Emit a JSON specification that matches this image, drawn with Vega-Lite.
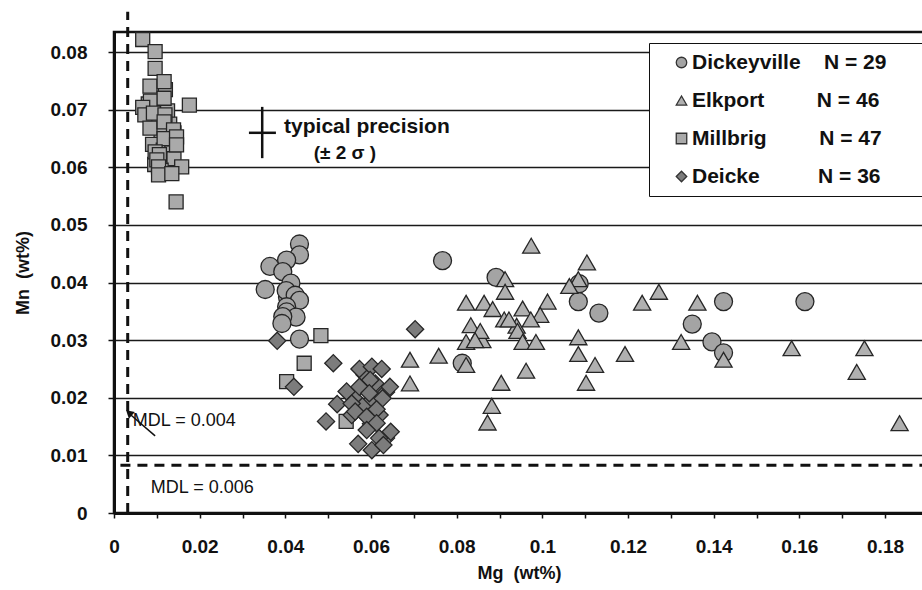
{
  "$schema": "https://vega.github.io/schema/vega-lite/v6.json",
  "width": 810,
  "height": 481,
  "autosize": "none",
  "padding": {"left": 114, "top": 32, "right": 0, "bottom": 77},
  "background": "white",
  "config": {"view": {"stroke": "#111", "strokeWidth": 2.5}, "font": "Liberation Sans"},
  "datasets": {
    "pts": [
      {"Formation": "Millbrig", "Mg": 0.0080, "Mn": 0.0710},
      {"Formation": "Millbrig", "Mg": 0.0090, "Mn": 0.0700},
      {"Formation": "Millbrig", "Mg": 0.0110, "Mn": 0.0705},
      {"Formation": "Millbrig", "Mg": 0.0125, "Mn": 0.0698},
      {"Formation": "Millbrig", "Mg": 0.0100, "Mn": 0.0685},
      {"Formation": "Millbrig", "Mg": 0.0130, "Mn": 0.0675},
      {"Formation": "Millbrig", "Mg": 0.0140, "Mn": 0.0660},
      {"Formation": "Millbrig", "Mg": 0.0110, "Mn": 0.0660},
      {"Formation": "Millbrig", "Mg": 0.0125, "Mn": 0.0645},
      {"Formation": "Millbrig", "Mg": 0.0090, "Mn": 0.0640},
      {"Formation": "Millbrig", "Mg": 0.0115, "Mn": 0.0630},
      {"Formation": "Millbrig", "Mg": 0.0135, "Mn": 0.0625},
      {"Formation": "Millbrig", "Mg": 0.0125, "Mn": 0.0610},
      {"Formation": "Millbrig", "Mg": 0.0095, "Mn": 0.0605},
      {"Formation": "Millbrig", "Mg": 0.0140, "Mn": 0.0615},
      {"Formation": "Millbrig", "Mg": 0.0110, "Mn": 0.0595},
      {"Formation": "Millbrig", "Mg": 0.0085, "Mn": 0.0715},
      {"Formation": "Millbrig", "Mg": 0.0120, "Mn": 0.0735},
      {"Formation": "Millbrig", "Mg": 0.0067, "Mn": 0.0822},
      {"Formation": "Millbrig", "Mg": 0.0096, "Mn": 0.0801},
      {"Formation": "Millbrig", "Mg": 0.0096, "Mn": 0.0772},
      {"Formation": "Millbrig", "Mg": 0.0084, "Mn": 0.0741},
      {"Formation": "Millbrig", "Mg": 0.0117, "Mn": 0.0749},
      {"Formation": "Millbrig", "Mg": 0.0117, "Mn": 0.0720},
      {"Formation": "Millbrig", "Mg": 0.0176, "Mn": 0.0708},
      {"Formation": "Millbrig", "Mg": 0.0067, "Mn": 0.0704},
      {"Formation": "Millbrig", "Mg": 0.0072, "Mn": 0.0691},
      {"Formation": "Millbrig", "Mg": 0.0092, "Mn": 0.0694},
      {"Formation": "Millbrig", "Mg": 0.0119, "Mn": 0.0691},
      {"Formation": "Millbrig", "Mg": 0.0084, "Mn": 0.0668},
      {"Formation": "Millbrig", "Mg": 0.0117, "Mn": 0.0679},
      {"Formation": "Millbrig", "Mg": 0.0139, "Mn": 0.0665},
      {"Formation": "Millbrig", "Mg": 0.0117, "Mn": 0.0650},
      {"Formation": "Millbrig", "Mg": 0.0146, "Mn": 0.0653},
      {"Formation": "Millbrig", "Mg": 0.0146, "Mn": 0.0639},
      {"Formation": "Millbrig", "Mg": 0.0096, "Mn": 0.0627},
      {"Formation": "Millbrig", "Mg": 0.0106, "Mn": 0.0622},
      {"Formation": "Millbrig", "Mg": 0.0100, "Mn": 0.0613},
      {"Formation": "Millbrig", "Mg": 0.0104, "Mn": 0.0601},
      {"Formation": "Millbrig", "Mg": 0.0158, "Mn": 0.0601},
      {"Formation": "Millbrig", "Mg": 0.0104, "Mn": 0.0587},
      {"Formation": "Millbrig", "Mg": 0.0135, "Mn": 0.0589},
      {"Formation": "Millbrig", "Mg": 0.0145, "Mn": 0.0540},
      {"Formation": "Millbrig", "Mg": 0.0483, "Mn": 0.0308},
      {"Formation": "Millbrig", "Mg": 0.0444, "Mn": 0.0260},
      {"Formation": "Millbrig", "Mg": 0.0403, "Mn": 0.0228},
      {"Formation": "Millbrig", "Mg": 0.0542, "Mn": 0.0159},
      {"Formation": "Dickeyville", "Mg": 0.0415, "Mn": 0.0360},
      {"Formation": "Dickeyville", "Mg": 0.0405, "Mn": 0.0375},
      {"Formation": "Dickeyville", "Mg": 0.0433, "Mn": 0.0467},
      {"Formation": "Dickeyville", "Mg": 0.0433, "Mn": 0.0448},
      {"Formation": "Dickeyville", "Mg": 0.0403, "Mn": 0.0439},
      {"Formation": "Dickeyville", "Mg": 0.0364, "Mn": 0.0428},
      {"Formation": "Dickeyville", "Mg": 0.0394, "Mn": 0.0419},
      {"Formation": "Dickeyville", "Mg": 0.0413, "Mn": 0.0399},
      {"Formation": "Dickeyville", "Mg": 0.0353, "Mn": 0.0388},
      {"Formation": "Dickeyville", "Mg": 0.0402, "Mn": 0.0386},
      {"Formation": "Dickeyville", "Mg": 0.0423, "Mn": 0.0378},
      {"Formation": "Dickeyville", "Mg": 0.0433, "Mn": 0.0369},
      {"Formation": "Dickeyville", "Mg": 0.0403, "Mn": 0.0358},
      {"Formation": "Dickeyville", "Mg": 0.0403, "Mn": 0.0349},
      {"Formation": "Dickeyville", "Mg": 0.0425, "Mn": 0.0340},
      {"Formation": "Dickeyville", "Mg": 0.0394, "Mn": 0.0341},
      {"Formation": "Dickeyville", "Mg": 0.0392, "Mn": 0.0329},
      {"Formation": "Dickeyville", "Mg": 0.0433, "Mn": 0.0302},
      {"Formation": "Dickeyville", "Mg": 0.0767, "Mn": 0.0438},
      {"Formation": "Dickeyville", "Mg": 0.0892, "Mn": 0.0409},
      {"Formation": "Dickeyville", "Mg": 0.1086, "Mn": 0.0398},
      {"Formation": "Dickeyville", "Mg": 0.1084, "Mn": 0.0367},
      {"Formation": "Dickeyville", "Mg": 0.1132, "Mn": 0.0347},
      {"Formation": "Dickeyville", "Mg": 0.1350, "Mn": 0.0328},
      {"Formation": "Dickeyville", "Mg": 0.0813, "Mn": 0.0260},
      {"Formation": "Dickeyville", "Mg": 0.1423, "Mn": 0.0367},
      {"Formation": "Dickeyville", "Mg": 0.1613, "Mn": 0.0367},
      {"Formation": "Dickeyville", "Mg": 0.1396, "Mn": 0.0297},
      {"Formation": "Dickeyville", "Mg": 0.1423, "Mn": 0.0278},
      {"Formation": "Elkport", "Mg": 0.0860, "Mn": 0.0300},
      {"Formation": "Elkport", "Mg": 0.0940, "Mn": 0.0325},
      {"Formation": "Elkport", "Mg": 0.0974, "Mn": 0.0464},
      {"Formation": "Elkport", "Mg": 0.1104, "Mn": 0.0435},
      {"Formation": "Elkport", "Mg": 0.0913, "Mn": 0.0406},
      {"Formation": "Elkport", "Mg": 0.1084, "Mn": 0.0406},
      {"Formation": "Elkport", "Mg": 0.1063, "Mn": 0.0394},
      {"Formation": "Elkport", "Mg": 0.0913, "Mn": 0.0384},
      {"Formation": "Elkport", "Mg": 0.1272, "Mn": 0.0384},
      {"Formation": "Elkport", "Mg": 0.0822, "Mn": 0.0365},
      {"Formation": "Elkport", "Mg": 0.0864, "Mn": 0.0365},
      {"Formation": "Elkport", "Mg": 0.1012, "Mn": 0.0367},
      {"Formation": "Elkport", "Mg": 0.1233, "Mn": 0.0365},
      {"Formation": "Elkport", "Mg": 0.1362, "Mn": 0.0365},
      {"Formation": "Elkport", "Mg": 0.0884, "Mn": 0.0354},
      {"Formation": "Elkport", "Mg": 0.0954, "Mn": 0.0355},
      {"Formation": "Elkport", "Mg": 0.0995, "Mn": 0.0344},
      {"Formation": "Elkport", "Mg": 0.0911, "Mn": 0.0336},
      {"Formation": "Elkport", "Mg": 0.0922, "Mn": 0.0336},
      {"Formation": "Elkport", "Mg": 0.0973, "Mn": 0.0336},
      {"Formation": "Elkport", "Mg": 0.0833, "Mn": 0.0326},
      {"Formation": "Elkport", "Mg": 0.0855, "Mn": 0.0316},
      {"Formation": "Elkport", "Mg": 0.0942, "Mn": 0.0316},
      {"Formation": "Elkport", "Mg": 0.0822, "Mn": 0.0297},
      {"Formation": "Elkport", "Mg": 0.0843, "Mn": 0.0300},
      {"Formation": "Elkport", "Mg": 0.0954, "Mn": 0.0297},
      {"Formation": "Elkport", "Mg": 0.0985, "Mn": 0.0297},
      {"Formation": "Elkport", "Mg": 0.1084, "Mn": 0.0305},
      {"Formation": "Elkport", "Mg": 0.1324, "Mn": 0.0297},
      {"Formation": "Elkport", "Mg": 0.0758, "Mn": 0.0273},
      {"Formation": "Elkport", "Mg": 0.1084, "Mn": 0.0276},
      {"Formation": "Elkport", "Mg": 0.0822, "Mn": 0.0257},
      {"Formation": "Elkport", "Mg": 0.1123, "Mn": 0.0257},
      {"Formation": "Elkport", "Mg": 0.1193, "Mn": 0.0276},
      {"Formation": "Elkport", "Mg": 0.0962, "Mn": 0.0247},
      {"Formation": "Elkport", "Mg": 0.0904, "Mn": 0.0226},
      {"Formation": "Elkport", "Mg": 0.1102, "Mn": 0.0226},
      {"Formation": "Elkport", "Mg": 0.0882, "Mn": 0.0186},
      {"Formation": "Elkport", "Mg": 0.0872, "Mn": 0.0157},
      {"Formation": "Elkport", "Mg": 0.0691, "Mn": 0.0266},
      {"Formation": "Elkport", "Mg": 0.0691, "Mn": 0.0225},
      {"Formation": "Elkport", "Mg": 0.1423, "Mn": 0.0266},
      {"Formation": "Elkport", "Mg": 0.1582, "Mn": 0.0286},
      {"Formation": "Elkport", "Mg": 0.1752, "Mn": 0.0286},
      {"Formation": "Elkport", "Mg": 0.1734, "Mn": 0.0245},
      {"Formation": "Elkport", "Mg": 0.1834, "Mn": 0.0156},
      {"Formation": "Deicke", "Mg": 0.0585, "Mn": 0.0240},
      {"Formation": "Deicke", "Mg": 0.0610, "Mn": 0.0225},
      {"Formation": "Deicke", "Mg": 0.0560, "Mn": 0.0200},
      {"Formation": "Deicke", "Mg": 0.0600, "Mn": 0.0195},
      {"Formation": "Deicke", "Mg": 0.0635, "Mn": 0.0210},
      {"Formation": "Deicke", "Mg": 0.0580, "Mn": 0.0185},
      {"Formation": "Deicke", "Mg": 0.0620, "Mn": 0.0170},
      {"Formation": "Deicke", "Mg": 0.0555, "Mn": 0.0170},
      {"Formation": "Deicke", "Mg": 0.0600, "Mn": 0.0155},
      {"Formation": "Deicke", "Mg": 0.0635, "Mn": 0.0130},
      {"Formation": "Deicke", "Mg": 0.0381, "Mn": 0.0299},
      {"Formation": "Deicke", "Mg": 0.0703, "Mn": 0.0319},
      {"Formation": "Deicke", "Mg": 0.0512, "Mn": 0.0260},
      {"Formation": "Deicke", "Mg": 0.0420, "Mn": 0.0219},
      {"Formation": "Deicke", "Mg": 0.0573, "Mn": 0.0250},
      {"Formation": "Deicke", "Mg": 0.0602, "Mn": 0.0254},
      {"Formation": "Deicke", "Mg": 0.0625, "Mn": 0.0250},
      {"Formation": "Deicke", "Mg": 0.0598, "Mn": 0.0231},
      {"Formation": "Deicke", "Mg": 0.0644, "Mn": 0.0219},
      {"Formation": "Deicke", "Mg": 0.0543, "Mn": 0.0211},
      {"Formation": "Deicke", "Mg": 0.0573, "Mn": 0.0219},
      {"Formation": "Deicke", "Mg": 0.0596, "Mn": 0.0208},
      {"Formation": "Deicke", "Mg": 0.0627, "Mn": 0.0199},
      {"Formation": "Deicke", "Mg": 0.0521, "Mn": 0.0189},
      {"Formation": "Deicke", "Mg": 0.0555, "Mn": 0.0190},
      {"Formation": "Deicke", "Mg": 0.0613, "Mn": 0.0180},
      {"Formation": "Deicke", "Mg": 0.0563, "Mn": 0.0176},
      {"Formation": "Deicke", "Mg": 0.0495, "Mn": 0.0159},
      {"Formation": "Deicke", "Mg": 0.0590, "Mn": 0.0167},
      {"Formation": "Deicke", "Mg": 0.0613, "Mn": 0.0156},
      {"Formation": "Deicke", "Mg": 0.0590, "Mn": 0.0144},
      {"Formation": "Deicke", "Mg": 0.0646, "Mn": 0.0141},
      {"Formation": "Deicke", "Mg": 0.0619, "Mn": 0.0130},
      {"Formation": "Deicke", "Mg": 0.0570, "Mn": 0.0120},
      {"Formation": "Deicke", "Mg": 0.0602, "Mn": 0.0109},
      {"Formation": "Deicke", "Mg": 0.0629, "Mn": 0.0118}
    ]
  },
  "layer": [
    {
      "data": {"name": "pts"},
      "mark": {"type": "point", "filled": true, "opacity": 1, "stroke": "#262626", "strokeWidth": 1.3},
      "encoding": {
        "x": {
          "field": "Mg", "type": "quantitative",
          "scale": {"domain": [0, 0.1891], "nice": false, "zero": false},
          "axis": {
            "title": "Mg\u00a0\u00a0(wt%)",
            "values": [0, 0.005, 0.01, 0.015, 0.02, 0.025, 0.03, 0.035, 0.04, 0.045, 0.05, 0.055, 0.06, 0.065, 0.07, 0.075, 0.08, 0.085, 0.09, 0.095, 0.1, 0.105, 0.11, 0.115, 0.12, 0.125, 0.13, 0.135, 0.14, 0.145, 0.15, 0.155, 0.16, 0.165, 0.17, 0.175, 0.18, 0.185],
            "labelExpr": "abs(round(datum.value*50) - datum.value*50) < 0.001 ? '' + round(datum.value*100)/100 : ''",
            "grid": false,
            "domainColor": "#111", "domainWidth": 3,
            "tickColor": "#111", "tickWidth": 1.5, "tickSize": 5,
            "labelFont": "Liberation Sans", "labelFontWeight": "bold", "labelFontSize": 19, "labelColor": "#111",
            "labelPadding": 19, "labelFlush": false, "labelOverlap": false,
            "titleFont": "Liberation Sans", "titleFontWeight": "bold", "titleFontSize": 18, "titleColor": "#111",
            "titlePadding": 8
          }
        },
        "y": {
          "field": "Mn", "type": "quantitative",
          "scale": {"domain": [0, 0.0835], "nice": false, "zero": false},
          "axis": {
            "title": "Mn\u00a0\u00a0(wt%)",
            "values": [0, 0.005, 0.01, 0.015, 0.02, 0.025, 0.03, 0.035, 0.04, 0.045, 0.05, 0.055, 0.06, 0.065, 0.07, 0.075, 0.08],
            "labelExpr": "abs(round(datum.value*100) - datum.value*100) < 0.001 ? '' + round(datum.value*100)/100 : ''",
            "grid": true,
            "gridColor": "#1a1a1a",
            "gridWidth": 1.4,
            "gridOpacity": {"condition": {"test": "abs(round(datum.value*100) - datum.value*100) < 0.001 && datum.value > 0", "value": 1}, "value": 0},
            "domainColor": "#111", "domainWidth": 3,
            "tickColor": "#111", "tickWidth": 1.5, "tickSize": 6,
            "labelFont": "Liberation Sans", "labelFontWeight": "bold", "labelFontSize": 19, "labelColor": "#111",
            "labelPadding": 21, "labelOverlap": false, "labelFlush": false,
            "titleFont": "Liberation Sans", "titleFontWeight": "bold", "titleFontSize": 18, "titleColor": "#111",
            "titlePadding": 18
          }
        },
        "shape": {
          "field": "Formation", "type": "nominal",
          "scale": {"domain": ["Dickeyville", "Elkport", "Millbrig", "Deicke"], "range": ["circle", "triangle-up", "square", "diamond"]},
          "legend": {
            "orient": "none", "legendX": 535, "legendY": 11,
            "title": "I", "titleOrient": "right", "titleOpacity": 0, "titleFontSize": 10, "titlePadding": 26,
            "padding": 9, "fillColor": "white", "strokeColor": "#111", "cornerRadius": 0,
            "rowPadding": 16, "symbolSize": 110, "symbolStrokeColor": "#333", "symbolStrokeWidth": 1.3,
            "symbolOffset": 13, "labelOffset": 0,
            "labelFont": "Liberation Sans", "labelFontWeight": "bold", "labelFontSize": 21, "labelColor": "#111", "labelLimit": 500,
            "encode": {"legend": {"update": {"strokeWidth": {"value": 2}}}},
            "labelExpr": "datum.label == 'Dickeyville' ? 'Dickeyville\u00a0\u00a0\u00a0\u00a0N = 29' : datum.label == 'Elkport' ? 'Elkport\u00a0\u00a0\u00a0\u00a0\u00a0\u00a0\u00a0\u00a0\u00a0N = 46' : datum.label == 'Millbrig' ? 'Millbrig\u00a0\u00a0\u00a0\u00a0\u00a0\u00a0\u00a0\u00a0\u00a0N = 47' : 'Deicke\u00a0\u00a0\u00a0\u00a0\u00a0\u00a0\u00a0\u00a0\u00a0\u00a0N = 36'"
          }
        },
        "color": {
          "field": "Formation", "type": "nominal",
          "scale": {"domain": ["Dickeyville", "Elkport", "Millbrig", "Deicke"], "range": ["#a4a4a4", "#b0b0b0", "#aaaaaa", "#7c7c7c"]},
          "legend": {
            "orient": "none", "legendX": 535, "legendY": 11,
            "title": "I", "titleOrient": "right", "titleOpacity": 0, "titleFontSize": 10, "titlePadding": 26,
            "padding": 9, "fillColor": "white", "strokeColor": "#111", "cornerRadius": 0,
            "rowPadding": 16, "symbolSize": 110, "symbolStrokeColor": "#333", "symbolStrokeWidth": 1.3,
            "symbolOffset": 13, "labelOffset": 0,
            "labelFont": "Liberation Sans", "labelFontWeight": "bold", "labelFontSize": 21, "labelColor": "#111", "labelLimit": 500,
            "encode": {"legend": {"update": {"strokeWidth": {"value": 2}}}},
            "labelExpr": "datum.label == 'Dickeyville' ? 'Dickeyville\u00a0\u00a0\u00a0\u00a0N = 29' : datum.label == 'Elkport' ? 'Elkport\u00a0\u00a0\u00a0\u00a0\u00a0\u00a0\u00a0\u00a0\u00a0N = 46' : datum.label == 'Millbrig' ? 'Millbrig\u00a0\u00a0\u00a0\u00a0\u00a0\u00a0\u00a0\u00a0\u00a0N = 47' : 'Deicke\u00a0\u00a0\u00a0\u00a0\u00a0\u00a0\u00a0\u00a0\u00a0\u00a0N = 36'"
          }
        },
        "size": {
          "condition": [
            {"test": "datum.Formation == 'Dickeyville'", "value": 324},
            {"test": "datum.Formation == 'Millbrig'", "value": 196}
          ],
          "value": 295
        }
      }
    },
    {
      "data": {"values": [
        {"Mg": 0.0032, "Mn": 0, "Mg2": 0.0032, "Mn2": 0.087},
        {"Mg": 0.0015, "Mn": 0.0083, "Mg2": 0.1891, "Mn2": 0.0083}
      ]},
      "mark": {"type": "rule", "color": "#111", "strokeWidth": 3, "strokeDash": [10, 7]},
      "encoding": {
        "x": {"field": "Mg", "type": "quantitative"},
        "y": {"field": "Mn", "type": "quantitative"},
        "x2": {"field": "Mg2"},
        "y2": {"field": "Mn2"}
      }
    },
    {
      "data": {"values": [
        {"Mg": 0.0346, "Mn": 0.0616, "Mg2": 0.0346, "Mn2": 0.0705},
        {"Mg": 0.0315, "Mn": 0.066, "Mg2": 0.0378, "Mn2": 0.066}
      ]},
      "mark": {"type": "rule", "color": "#111", "strokeWidth": 2.5},
      "encoding": {
        "x": {"field": "Mg", "type": "quantitative"},
        "y": {"field": "Mn", "type": "quantitative"},
        "x2": {"field": "Mg2"},
        "y2": {"field": "Mn2"}
      }
    },
    {
      "data": {"values": [
        {"Mg": 0.0096, "Mn": 0.0134, "Mg2": 0.0038, "Mn2": 0.0171}
      ]},
      "mark": {"type": "rule", "color": "#111", "strokeWidth": 1.5},
      "encoding": {
        "x": {"field": "Mg", "type": "quantitative"},
        "y": {"field": "Mn", "type": "quantitative"},
        "x2": {"field": "Mg2"},
        "y2": {"field": "Mn2"}
      }
    },
    {
      "data": {"values": [{"Mg": 0.0035, "Mn": 0.0174}]},
      "mark": {"type": "point", "shape": "triangle-up", "filled": true, "color": "#111", "opacity": 1, "size": 80, "angle": 312},
      "encoding": {
        "x": {"field": "Mg", "type": "quantitative"},
        "y": {"field": "Mn", "type": "quantitative"}
      }
    },
    {
      "data": {"values": [{"Mg": 0.0397, "Mn": 0.067, "label": "typical precision"}]},
      "mark": {"type": "text", "align": "left", "baseline": "middle", "font": "Liberation Sans", "fontWeight": "bold", "fontSize": 21, "color": "#111"},
      "encoding": {
        "x": {"field": "Mg", "type": "quantitative"},
        "y": {"field": "Mn", "type": "quantitative"},
        "text": {"field": "label"}
      }
    },
    {
      "data": {"values": [{"Mg": 0.0539, "Mn": 0.0625, "label": "(± 2 σ )"}]},
      "mark": {"type": "text", "align": "center", "baseline": "middle", "font": "Liberation Sans", "fontWeight": "bold", "fontSize": 19, "color": "#111"},
      "encoding": {
        "x": {"field": "Mg", "type": "quantitative"},
        "y": {"field": "Mn", "type": "quantitative"},
        "text": {"field": "label"}
      }
    },
    {
      "data": {"values": [
        {"Mg": 0.0044, "Mn": 0.016, "label": "MDL = 0.004"},
        {"Mg": 0.0086, "Mn": 0.0043, "label": "MDL = 0.006"}
      ]},
      "mark": {"type": "text", "align": "left", "baseline": "middle", "font": "Liberation Sans", "fontSize": 18, "color": "#111"},
      "encoding": {
        "x": {"field": "Mg", "type": "quantitative"},
        "y": {"field": "Mn", "type": "quantitative"},
        "text": {"field": "label"}
      }
    }
  ]
}
